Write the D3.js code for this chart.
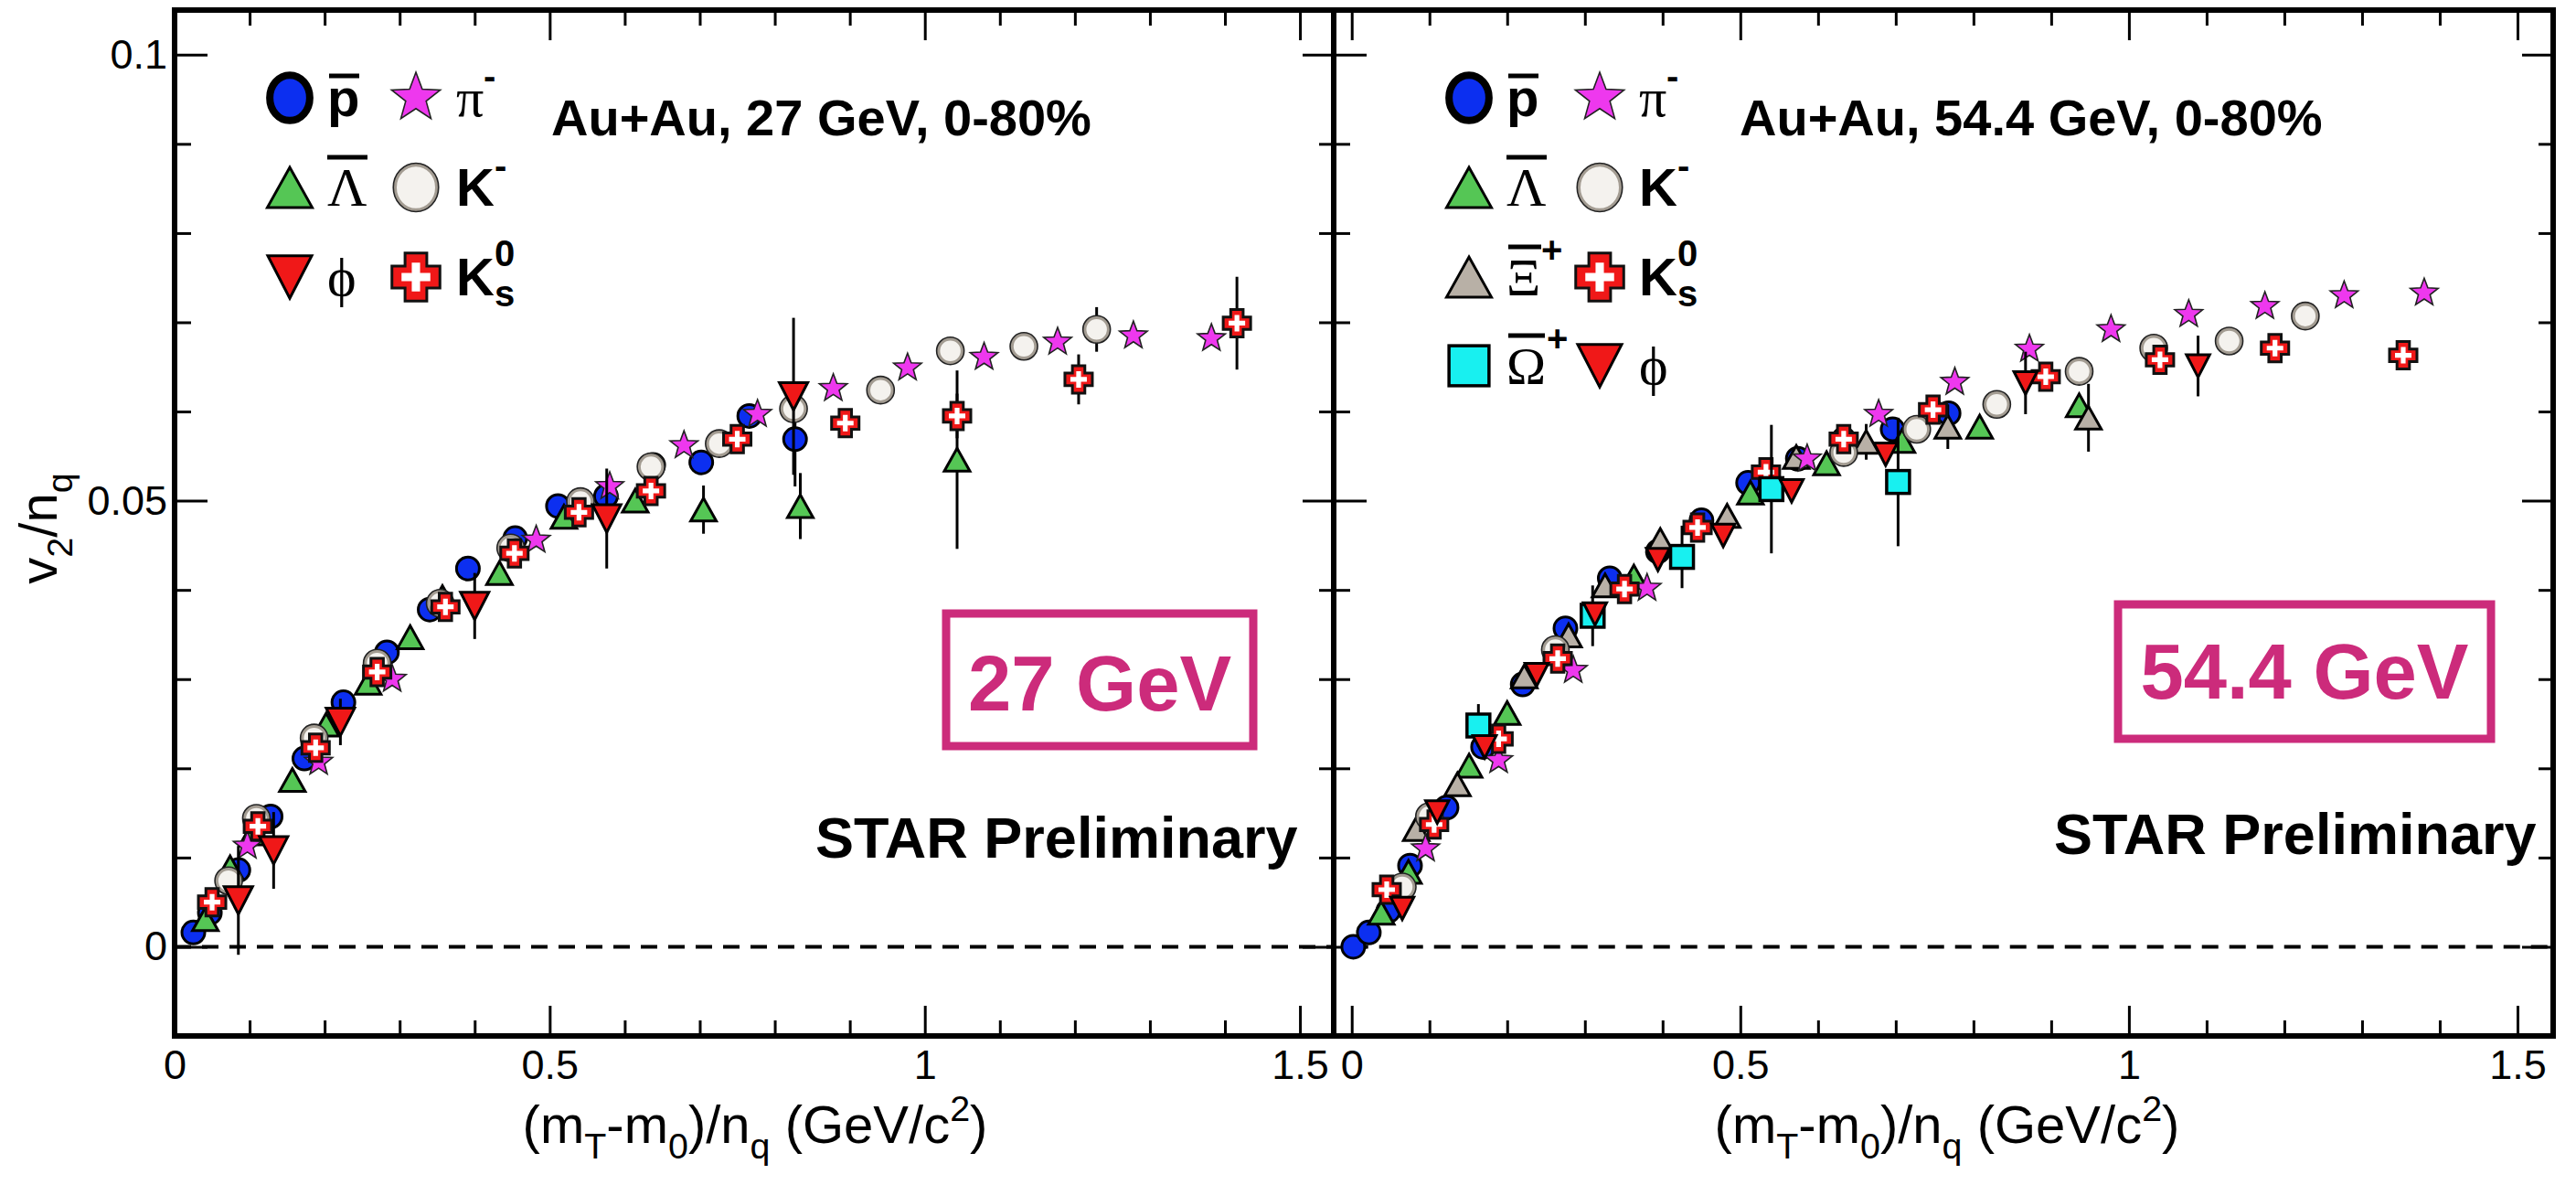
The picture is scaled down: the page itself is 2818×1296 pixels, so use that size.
<!DOCTYPE html>
<html><head><meta charset="utf-8">
<script src="https://cdn.jsdelivr.net/npm/d3@7"></script>
<style>body{margin:0;background:#fff}svg{display:block}</style>
</head><body>
<svg id="c" width="2818" height="1296"></svg>
<script>
// ---------- tick values / labels ----------
const xMajorTicks = [0, 0.5, 1, 1.5];
const xMajorLabels = ["0", "0.5", "1", "1.5"];
const xMinorTicks = [0.1,0.2,0.3,0.4,0.6,0.7,0.8,0.9,1.1,1.2,1.3,1.4];
const yMajorTicks = [0, 0.05, 0.1];
const yMajorLabels = ["0", "0.05", "0.1"];
const yMinorTicks = [0.01,0.02,0.03,0.04,0.06,0.07,0.08,0.09];

// ---------- Au+Au 27 GeV : [x, v2/nq, error] ----------
const pbar27 = [[0.025,0.0016,0],[0.047,0.0038,0],[0.085,0.0086,0],[0.128,0.0146,0],[0.173,0.0211,0],[0.225,0.0274,0],[0.283,0.0330,0],[0.340,0.0378,0],[0.391,0.0424,0],[0.454,0.0458,0],[0.511,0.0494,0],[0.575,0.0505,0],[0.638,0.0540,0],[0.702,0.0543,0],[0.766,0.0595,0],[0.827,0.0569,0.0053]];
const lambda27 = [[0.041,0.0031,0],[0.074,0.0089,0],[0.104,0.0127,0],[0.157,0.0187,0],[0.202,0.0249,0],[0.258,0.0296,0],[0.314,0.0347,0],[0.357,0.0392,0],[0.433,0.0419,0],[0.519,0.0482,0],[0.614,0.0500,0],[0.705,0.0490,0.0027],[0.834,0.0494,0.0037],[1.043,0.0546,0.0100]];
const pim27 = [[0.097,0.0113,0],[0.192,0.0207,0],[0.290,0.0300,0],[0.482,0.0456,0],[0.580,0.0516,0],[0.679,0.0562,0],[0.777,0.0597,0],[0.878,0.0626,0],[0.977,0.0649,0],[1.079,0.0661,0],[1.177,0.0678,0],[1.278,0.0685,0],[1.382,0.0682,0]];
const km27 = [[0.072,0.0074,0],[0.109,0.0144,0],[0.186,0.0234,0],[0.270,0.0318,0],[0.354,0.0385,0],[0.448,0.0447,0],[0.541,0.0499,0],[0.635,0.0538,0],[0.726,0.0564,0],[0.825,0.0603,0],[0.941,0.0624,0],[1.034,0.0668,0],[1.132,0.0673,0.0010],[1.229,0.0692,0.0025]];
const k0s27 = [[0.050,0.0050,0],[0.111,0.0135,0],[0.188,0.0223,0],[0.270,0.0308,0],[0.361,0.0381,0],[0.453,0.0441,0],[0.539,0.0487,0],[0.635,0.0511,0],[0.750,0.0569,0],[0.894,0.0587,0],[1.043,0.0595,0.0025],[1.205,0.0636,0.0028],[1.416,0.0699,0.0052]];
const phi27 = [[0.085,0.0052,0.0061],[0.132,0.0108,0.0043],[0.221,0.0252,0.0026],[0.400,0.0382,0.0037],[0.576,0.0480,0.0056],[0.825,0.0617,0.0088]];

// ---------- Au+Au 54.4 GeV : [x, v2/nq, error] ----------
const pbar54 = [[0.002,0.0000,0],[0.022,0.0016,0],[0.047,0.0040,0],[0.075,0.0091,0],[0.122,0.0156,0],[0.169,0.0224,0],[0.220,0.0294,0],[0.275,0.0357,0],[0.332,0.0413,0],[0.394,0.0443,0],[0.450,0.0478,0],[0.510,0.0520,0],[0.574,0.0547,0],[0.633,0.0569,0],[0.696,0.0580,0],[0.768,0.0598,0]];
const lambda54 = [[0.038,0.0038,0],[0.073,0.0084,0],[0.151,0.0203,0],[0.200,0.0262,0],[0.363,0.0415,0],[0.513,0.0509,0],[0.611,0.0542,0],[0.708,0.0567,0],[0.808,0.0583,0],[0.936,0.0607,0]];
const xi54 = [[0.083,0.0132,0],[0.136,0.0182,0],[0.222,0.0303,0],[0.279,0.0349,0],[0.326,0.0405,0],[0.397,0.0456,0],[0.483,0.0483,0],[0.572,0.0549,0],[0.662,0.0566,0.0020],[0.767,0.0583,0.0025],[0.948,0.0593,0.0038]];
const pim54 = [[0.095,0.0110,0],[0.189,0.0209,0],[0.285,0.0310,0],[0.380,0.0402,0],[0.586,0.0547,0],[0.678,0.0597,0],[0.776,0.0633,0],[0.872,0.0670,0],[0.977,0.0692,0],[1.077,0.0709,0],[1.175,0.0718,0],[1.277,0.0730,0],[1.380,0.0733,0]];
const km54 = [[0.065,0.0067,0],[0.100,0.0146,0],[0.262,0.0333,0],[0.633,0.0554,0],[0.727,0.0580,0],[0.830,0.0608,0],[0.936,0.0645,0],[1.032,0.0671,0],[1.129,0.0679,0],[1.227,0.0707,0]];
const k0s54 = [[0.045,0.0064,0],[0.106,0.0137,0],[0.189,0.0233,0],[0.265,0.0323,0],[0.351,0.0401,0],[0.445,0.0470,0],[0.533,0.0532,0],[0.633,0.0569,0],[0.748,0.0602,0],[0.893,0.0639,0],[1.040,0.0658,0],[1.188,0.0671,0],[1.353,0.0663,0]];
const omega54 = [[0.163,0.0248,0.0024],[0.310,0.0371,0.0034],[0.425,0.0437,0.0035],[0.540,0.0513,0.0072],[0.703,0.0521,0.0072]];
const phi54 = [[0.065,0.0043,0],[0.110,0.0151,0],[0.171,0.0224,0],[0.238,0.0305,0],[0.313,0.0373,0],[0.394,0.0434,0],[0.478,0.0461,0],[0.566,0.0511,0],[0.687,0.0552,0],[0.867,0.0632,0.0035],[1.089,0.0651,0.0034]];

// ---------- styling ----------
const C = {blue:"#0c2ff0", green:"#55c655", grey:"#b8b0a6", mag:"#ee38ee", red:"#f01818", cyan:"#18f0f0", box:"#cc2b7b"};
const SANS = "'Liberation Sans', Arial, Helvetica, sans-serif";
const SERIF = "'Liberation Serif', 'Times New Roman', serif";

const svg = d3.select("#c");
const yTop = 11, yBot = 1133;
const y = d3.scaleLinear().domain([-0.01, 0.105]).range([yBot, yTop]);

// ---------- marker drawing ----------
function starPath(R) {
  const r = R * 0.42; let p = "";
  for (let i = 0; i < 10; i++) {
    const a = -Math.PI / 2 + i * Math.PI / 5, rr = i % 2 ? r : R;
    p += (i ? "L" : "M") + (rr * Math.cos(a)).toFixed(2) + "," + (rr * Math.sin(a)).toFixed(2);
  }
  return p + "Z";
}
function plusPath(L, a) {
  return `M${-a},${-L}H${a}V${-a}H${L}V${a}H${a}V${L}H${-a}V${a}H${-L}V${-a}H${-a}Z`;
}
function marker(g, type, cx, cy, s, legend) {
  const t = g.append("g").attr("transform", `translate(${cx},${cy})`);
  if (type === "pbar") {
    t.append("ellipse").attr("rx", 12.5 * s).attr("ry", (legend ? 14.2 : 12.5) * s)
      .attr("fill", C.blue).attr("stroke", "#000").attr("stroke-width", legend ? 8 : 3);
  } else if (type === "open") {
    t.append("ellipse").attr("rx", 13 * s).attr("ry", (legend ? 14 : 13) * s)
      .attr("fill", "#f4f2ee").attr("stroke", "#a39c92").attr("stroke-width", 3.5);
    t.append("ellipse").attr("rx", 13 * s + 2).attr("ry", (legend ? 14 : 13) * s + 2)
      .attr("fill", "none").attr("stroke", "#222").attr("stroke-width", 1.6);
  } else if (type === "tri" || type === "xi") {
    const w = 14 * s, h = 12.5 * s;
    t.append("path").attr("d", `M${-w},${h}L${w},${h}L0,${-h}Z`)
      .attr("fill", type === "tri" ? C.green : C.grey).attr("stroke", "#000").attr("stroke-width", 3).attr("stroke-linejoin", "miter");
  } else if (type === "phi") {
    const w = 15.5 * s, h = 15 * s;
    t.append("path").attr("d", `M${-w},${-h}L${w},${-h}L0,${h}Z`)
      .attr("fill", C.red).attr("stroke", "#000").attr("stroke-width", 3);
  } else if (type === "star") {
    t.append("path").attr("d", starPath(16 * s))
      .attr("fill", C.mag).attr("stroke", "#222").attr("stroke-width", 1.6);
  } else if (type === "cross") {
    t.append("path").attr("d", plusPath(15 * s, 6.8 * s))
      .attr("fill", C.red).attr("stroke", "#111").attr("stroke-width", 3);
    t.append("path").attr("d", plusPath(9 * s, 2.6 * s)).attr("fill", "#fff");
  } else if (type === "square") {
    const a = 12.5 * s;
    t.append("rect").attr("x", -a).attr("y", -a).attr("width", 2 * a).attr("height", 2 * a)
      .attr("fill", C.cyan).attr("stroke", "#000").attr("stroke-width", 3.5);
  }
}

// ---------- rich text helper ----------
function rich(g, x, y0, parts, fs, opts = {}) {
  const t = g.append("text").attr("x", x).attr("y", y0).attr("font-size", fs)
    .attr("font-family", opts.family || SANS).attr("font-weight", opts.weight || "normal")
    .attr("text-anchor", opts.anchor || "start").attr("fill", opts.fill || "#000");
  if (opts.transform) t.attr("transform", opts.transform);
  let cur = 0;
  parts.forEach(p => {
    const target = p.sub ? 0.3 * fs : p.sup ? -0.42 * fs : 0;
    t.append("tspan").attr("dy", target - cur).attr("font-size", (p.sub || p.sup) ? fs * 0.68 : fs)
      .attr("font-family", p.serif ? SERIF : null).text(p.t);
    cur = target;
  });
  return t;
}

// ---------- panels ----------
const panels = [
  { x0: 191, x1: 1459, dom: [0, 1.545], yLabels: true,
    title: "Au+Au, 27 GeV, 0-80%", titleX: 603, energy: "27 GeV",
    box: [1035, 671, 1371, 816], boxTextBase: 777, starX: 892, starY: 938, titleCx: 826,
    series: [["pbar", pbar27], ["tri", lambda27], ["star", pim27], ["open", km27], ["cross", k0s27], ["phi", phi27]],
    phiScale: 1.0 },
  { x0: 1459, x1: 2793, dom: [-0.0232, 1.5459], yLabels: false,
    title: "Au+Au, 54.4 GeV, 0-80%", titleX: 1903, energy: "54.4 GeV",
    box: [2317, 661, 2725, 808], boxTextBase: 764, starX: 2247, starY: 934, titleCx: 2130,
    series: [["pbar", pbar54], ["tri", lambda54], ["xi", xi54], ["star", pim54], ["open", km54], ["cross", k0s54], ["square", omega54], ["phi", phi54]],
    phiScale: 0.82 }
];

panels.forEach((P, pi) => {
  const x = d3.scaleLinear().domain(P.dom).range([P.x0, P.x1]);
  const g = svg.append("g");

  // dashed zero line
  g.append("line").attr("x1", x(0)).attr("x2", P.x1).attr("y1", y(0)).attr("y2", y(0))
    .attr("stroke", "#000").attr("stroke-width", 4).attr("stroke-dasharray", "18 12");

  // ticks via d3 axes (pointing inward)
  const tickStyle = sel => { sel.select(".domain").remove(); sel.selectAll("line").attr("stroke", "#000").attr("stroke-width", 3); };
  const bot = g.append("g").attr("transform", `translate(0,${yBot})`)
    .call(d3.axisBottom(x).tickValues(xMajorTicks).tickSizeInner(-33).tickSizeOuter(0).tickPadding(15)
      .tickFormat((d, i) => xMajorLabels[i]));
  tickStyle(bot);
  bot.selectAll("text").attr("font-size", 45).attr("font-family", SANS).attr("fill", "#000");
  g.append("g").attr("transform", `translate(0,${yBot})`)
    .call(d3.axisBottom(x).tickValues(xMinorTicks).tickSizeInner(-17).tickSizeOuter(0).tickFormat("")).call(tickStyle);
  g.append("g").attr("transform", `translate(0,${yTop})`)
    .call(d3.axisTop(x).tickValues(xMajorTicks).tickSizeInner(-33).tickSizeOuter(0).tickFormat("")).call(tickStyle);
  g.append("g").attr("transform", `translate(0,${yTop})`)
    .call(d3.axisTop(x).tickValues(xMinorTicks).tickSizeInner(-17).tickSizeOuter(0).tickFormat("")).call(tickStyle);

  const left = g.append("g").attr("transform", `translate(${P.x0},0)`)
    .call(d3.axisLeft(y).tickValues(yMajorTicks).tickSizeInner(-36).tickSizeOuter(0).tickPadding(8)
      .tickFormat((d, i) => P.yLabels ? yMajorLabels[i] : ""));
  tickStyle(left);
  left.selectAll("text").attr("font-size", 45).attr("font-family", SANS).attr("fill", "#000");
  g.append("g").attr("transform", `translate(${P.x0},0)`)
    .call(d3.axisLeft(y).tickValues(yMinorTicks).tickSizeInner(-18).tickSizeOuter(0).tickFormat("")).call(tickStyle);
  g.append("g").attr("transform", `translate(${P.x1},0)`)
    .call(d3.axisRight(y).tickValues(yMajorTicks).tickSizeInner(-34).tickSizeOuter(0).tickFormat("")).call(tickStyle);
  g.append("g").attr("transform", `translate(${P.x1},0)`)
    .call(d3.axisRight(y).tickValues(yMinorTicks).tickSizeInner(-16).tickSizeOuter(0).tickFormat("")).call(tickStyle);

  // data: error bars then markers, per series
  P.series.forEach(([type, data]) => {
    const sg = g.append("g");
    data.filter(d => d[2] > 0).forEach(d => {
      sg.append("line").attr("x1", x(d[0])).attr("x2", x(d[0]))
        .attr("y1", y(d[1] - d[2])).attr("y2", y(d[1] + d[2]))
        .attr("stroke", "#000").attr("stroke-width", 3);
    });
    data.forEach(d => marker(sg, type, x(d[0]), y(d[1]), type === "phi" ? P.phiScale : 1, false));
  });

  // frame
  g.append("rect").attr("x", P.x0).attr("y", yTop).attr("width", P.x1 - P.x0).attr("height", yBot - yTop)
    .attr("fill", "none").attr("stroke", "#000").attr("stroke-width", 6);

  // titles
  g.append("text").attr("x", P.titleX).attr("y", 148).attr("font-size", 56).attr("font-weight", "bold")
    .attr("font-family", SANS).text(P.title);
  g.append("text").attr("x", P.starX).attr("y", P.starY).attr("font-size", 63).attr("font-weight", "bold")
    .attr("font-family", SANS).text("STAR Preliminary");
  const [bx0, by0, bx1, by1] = P.box;
  g.append("rect").attr("x", bx0).attr("y", by0).attr("width", bx1 - bx0).attr("height", by1 - by0)
    .attr("fill", "#fff").attr("stroke", C.box).attr("stroke-width", 9);
  g.append("text").attr("x", (bx0 + bx1) / 2).attr("y", P.boxTextBase).attr("text-anchor", "middle")
    .attr("font-size", 85).attr("font-weight", "bold").attr("font-family", SANS).attr("fill", C.box).text(P.energy);

  // x axis title
  rich(g, P.titleCx, 1250, [{t:"(m"},{t:"T",sub:true},{t:"-m"},{t:"0",sub:true},{t:")/n"},{t:"q",sub:true},{t:" (GeV/c"},{t:"2",sup:true},{t:")"}], 58, {anchor:"middle"});
});

// y axis title
rich(svg, 0, 0, [{t:"v"},{t:"2",sub:true},{t:"/n"},{t:"q",sub:true}], 58, {anchor:"middle", transform:"translate(62,578) rotate(-90)"});

// ---------- legends ----------
function bar(g, xa, xb, yy) { g.append("line").attr("x1", xa).attr("x2", xb).attr("y1", yy).attr("y2", yy).attr("stroke", "#000").attr("stroke-width", 5); }
function lbl(g, xx, yy, s, fs, serif, bold) {
  return g.append("text").attr("x", xx).attr("y", yy).attr("font-size", fs)
    .attr("font-family", serif ? SERIF : SANS).attr("font-weight", bold ? "bold" : "normal").text(s);
}
const LS = 1.75;
const rowBase = [127, 225, 323, 420];
function legendRows(g, mx1, lx1, mx2, lx2, rows) {
  rows.forEach((r, i) => {
    const b = rowBase[i], mc = b - 20;
    marker(g, r[0], mx1, mc, r[0] === "phi" ? 1.55 : LS, true);
    r[1](g, lx1, b);
    marker(g, r[2], mx2, mc, r[2] === "phi" ? 1.55 : LS, true);
    r[3](g, lx2, b);
  });
}
const L = {
  pbar: (g, x0, b) => { lbl(g, x0, b, "p", 58, false, true); bar(g, x0 + 2, x0 + 35, b - 44); },
  pim: (g, x0, b) => { lbl(g, x0, b, "π", 60, true, false); lbl(g, x0 + 30, b - 30, "-", 40, false, true); },
  lam: (g, x0, b) => { lbl(g, x0, b, "Λ", 60, true, false); bar(g, x0, x0 + 44, b - 53); },
  km: (g, x0, b) => { lbl(g, x0, b, "K", 58, false, true); lbl(g, x0 + 42, b - 30, "-", 40, false, true); },
  phi: (g, x0, b) => { lbl(g, x0, b, "ϕ", 60, true, false); },
  k0s: (g, x0, b) => { lbl(g, x0, b, "K", 58, false, true); lbl(g, x0 + 42, b - 32, "0", 40, false, true); lbl(g, x0 + 42, b + 12, "s", 40, false, true); },
  xi: (g, x0, b) => { lbl(g, x0, b, "Ξ", 58, true, false); bar(g, x0 + 2, x0 + 38, b - 53); lbl(g, x0 + 38, b - 36, "+", 40, false, true); },
  om: (g, x0, b) => { lbl(g, x0, b, "Ω", 58, true, false); bar(g, x0 + 2, x0 + 42, b - 53); lbl(g, x0 + 44, b - 36, "+", 40, false, true); }
};
const lg1 = svg.append("g");
legendRows(lg1, 317, 358, 455, 499, [["pbar", L.pbar, "star", L.pim], ["tri", L.lam, "open", L.km], ["phi", L.phi, "cross", L.k0s]]);
const lg2 = svg.append("g");
legendRows(lg2, 1607, 1648, 1750, 1793, [["pbar", L.pbar, "star", L.pim], ["tri", L.lam, "open", L.km], ["xi", L.xi, "cross", L.k0s], ["square", L.om, "phi", L.phi]]);
</script>
</body></html>
